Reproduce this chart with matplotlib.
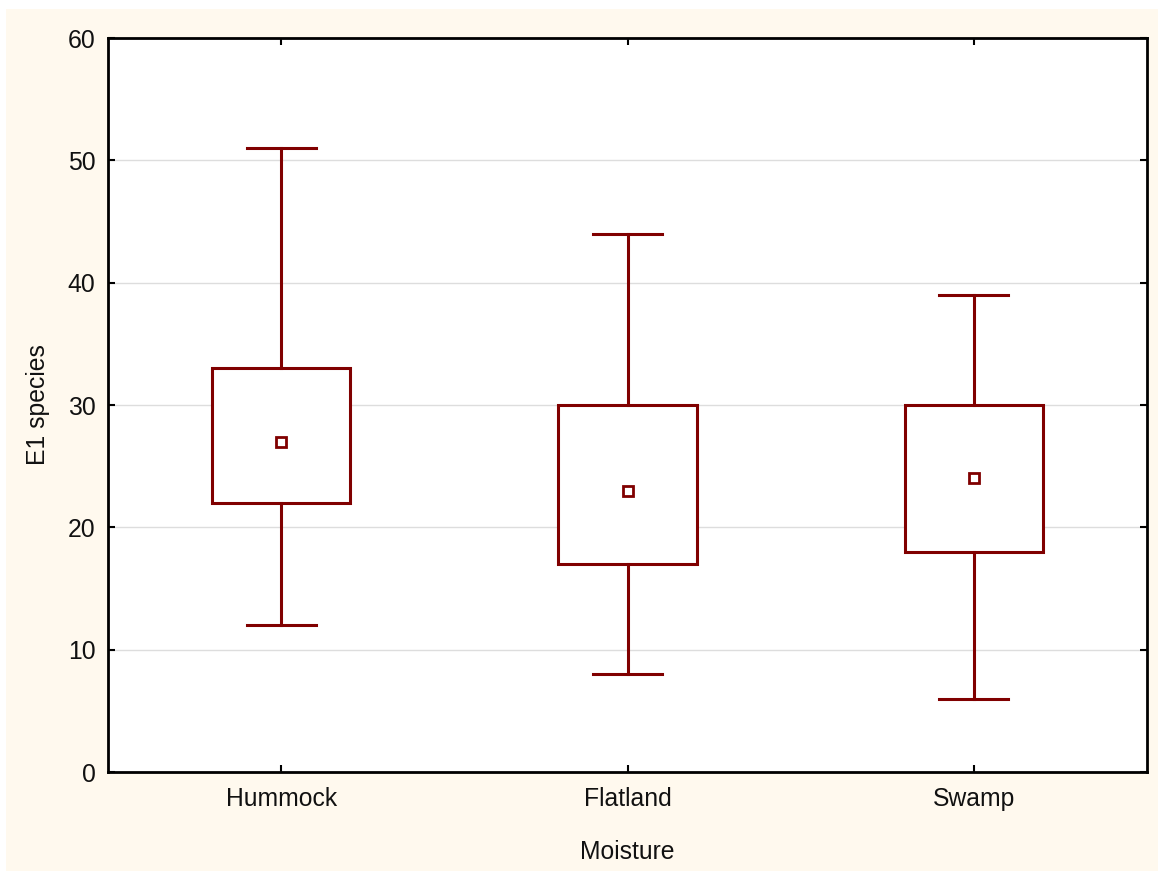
import matplotlib
matplotlib.use("Agg")
import matplotlib.pyplot as plt
from matplotlib.patches import Rectangle

categories = ["Hummock", "Flatland", "Swamp"]
whisker_low = [12, 8, 6]
whisker_high = [51, 44, 39]
box_low = [22, 17, 18]
box_high = [33, 30, 30]
means = [27, 23, 24]
y_ticks = [0, 10, 20, 30, 40, 50, 60]

W, H = 1158, 871
fig = plt.figure(figsize=(W / 100, H / 100), dpi=100)
fig.patch.set_facecolor("white")
fig.patches.append(Rectangle((6 / W, 0), 1 - 6 / W, 1 - 9 / H, transform=fig.transFigure,
                             facecolor="#FFF9EE", edgecolor="none", zorder=-10))
plt.rcParams["font.family"] = ["Liberation Sans", "DejaVu Sans"]

ax = fig.add_axes([108 / W, 1 - 772 / H, 1039 / W, 734 / H])
ax.set_facecolor("white")

stats = []
for i, c in enumerate(categories):
    stats.append(dict(label=c, whislo=whisker_low[i], whishi=whisker_high[i],
                      q1=box_low[i], q3=box_high[i], med=means[i], mean=means[i], fliers=[]))

red = "#800000"
ax.bxp(stats, positions=range(len(categories)), widths=0.4, capwidths=0.2,
       showmeans=True, showfliers=False, patch_artist=True,
       boxprops=dict(facecolor="white", edgecolor=red, linewidth=2.2),
       whiskerprops=dict(color=red, linewidth=2.2),
       capprops=dict(color=red, linewidth=2.2),
       medianprops=dict(visible=False),
       meanprops=dict(marker="s", markersize=6.5, markerfacecolor="white",
                      markeredgecolor=red, markeredgewidth=2),
       zorder=3)

ax.set_xlim(-0.5, 2.5)
ax.set_ylim(0, 60)
ax.set_yticks(y_ticks)
ax.set_xticks(range(len(categories)))
ax.set_xticklabels(categories)
ax.yaxis.grid(True, color="#DDDDDD", linewidth=1)
ax.set_axisbelow(True)

for s in ax.spines.values():
    s.set_linewidth(2)
    s.set_color("black")

fs = 17.8
ax.tick_params(direction="in", top=True, right=True, length=5, width=1.5,
               labelsize=fs, colors="black")
ax.tick_params(axis="y", pad=9)
ax.tick_params(axis="x", pad=11)
for lab in ax.get_xticklabels() + ax.get_yticklabels():
    lab.set_color("#111111")

ax.set_xlabel("Moisture", fontsize=fs, color="#111111", labelpad=21)
ax.set_ylabel("E1 species", fontsize=fs, color="#111111", labelpad=13)

fig.savefig("out.png", dpi=100, facecolor=fig.get_facecolor())
